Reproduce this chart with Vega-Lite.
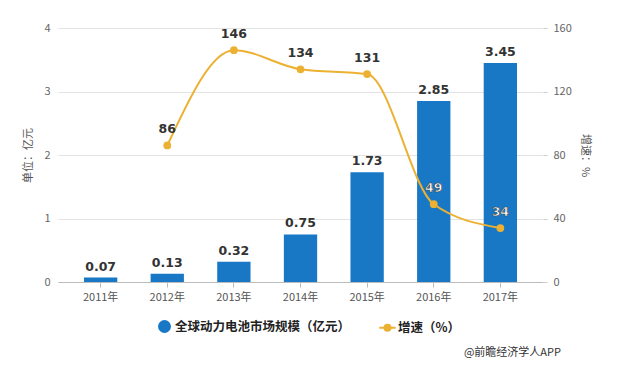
{
  "$schema": "https://vega.github.io/schema/vega-lite/v6.json",
  "autosize": {"type": "none"},
  "width": 485,
  "height": 254,
  "padding": {"left": 58, "top": 28, "right": 82, "bottom": 87},
  "background": "white",
  "config": {
    "font": "Noto Sans CJK SC",
    "view": {"stroke": null},
    "axis": {"labelColor": "#666", "labelFontSize": 11, "titleColor": "#555", "titleFontSize": 11, "titleFontWeight": "normal"}
  },
  "title": {
    "text": "@前瞻经济学人APP",
    "orient": "bottom",
    "anchor": "end",
    "frame": "group",
    "offset": 26,
    "dx": 18,
    "dy": -15,
    "fontSize": 11,
    "fontWeight": "normal",
    "color": "#333"
  },
  "data": {
    "values": [
      {"year": "2011年", "size": 0.07, "growth": null},
      {"year": "2012年", "size": 0.13, "growth": 86},
      {"year": "2013年", "size": 0.32, "growth": 146},
      {"year": "2014年", "size": 0.75, "growth": 134},
      {"year": "2015年", "size": 1.73, "growth": 131},
      {"year": "2016年", "size": 2.85, "growth": 49},
      {"year": "2017年", "size": 3.45, "growth": 34}
    ]
  },
  "encoding": {
    "x": {
      "field": "year",
      "type": "ordinal",
      "sort": null,
      "scale": {"paddingInner": 0.5, "paddingOuter": 0.39},
      "axis": {
        "title": null,
        "labelAngle": 0,
        "domainColor": "#bbb",
        "tickColor": "#bbb",
        "tickSize": 5,
        "labelPadding": 4,
        "labelColor": "#555"
      }
    }
  },
  "layer": [
    {
      "layer": [
        {
          "mark": {"type": "bar", "color": "#1878C6"},
          "encoding": {
            "y": {
              "field": "size",
              "type": "quantitative",
              "scale": {"domain": [0, 4]},
              "axis": {
                "title": "单位：亿元",
                "values": [0, 1, 2, 3, 4],
                "format": "d",
                "domain": false,
                "ticks": false,
                "gridColor": "#e3e3e3",
                "labelPadding": 8,
                "titlePadding": 10
              }
            },
            "color": {
              "datum": "全球动力电池市场规模（亿元）",
              "scale": {
                "domain": ["全球动力电池市场规模（亿元）", "增速（%）"],
                "range": ["#1878C6", "#ECB132"]
              },
              "legend": {
                "title": null,
                "orient": "none",
                "legendX": 100,
                "legendY": 292,
                "direction": "horizontal",
                "labelFontSize": 12.5,
                "labelFontWeight": "bold",
                "labelColor": "#222",
                "symbolSize": 120,
                "columnPadding": 24,
                "labelLimit": 300,
                "encode": {
                  "symbols": {
                    "update": {
                      "shape": {"signal": "datum.value === '增速（%）' ? 'M-1.5,0H1.5M0.55,0A0.55,0.55,0,1,1,-0.55,0A0.55,0.55,0,1,1,0.55,0' : 'circle'"},
                      "stroke": {"signal": "datum.value === '增速（%）' ? '#ECB132' : '#1878C6'"},
                      "fill": {"signal": "datum.value === '增速（%）' ? '#ECB132' : '#1878C6'"},
                      "strokeWidth": {"value": 2}
                    }
                  }
                }
              }
            }
          }
        },
        {
          "mark": {"type": "text", "baseline": "bottom", "dy": -4, "fontSize": 12.5, "fontWeight": "bold", "font": "DejaVu Sans", "color": "#333"},
          "encoding": {
            "y": {"field": "size", "type": "quantitative"},
            "text": {"field": "size", "type": "quantitative", "format": ".2f"}
          }
        }
      ]
    },
    {
      "transform": [{"filter": "datum.growth != null"}],
      "layer": [
        {
          "mark": {"type": "line", "interpolate": "monotone", "strokeWidth": 2, "point": {"filled": true, "size": 60}},
          "encoding": {
            "y": {
              "field": "growth",
              "type": "quantitative",
              "scale": {"domain": [0, 160]},
              "axis": {
                "orient": "right",
                "title": "增速：%",
                "titleAngle": 90,
                "values": [0, 40, 80, 120, 160],
                "grid": false,
                "domain": false,
                "ticks": true,
                "tickSize": 4,
                "tickColor": "#ccc",
                "labelPadding": 6,
                "titlePadding": 8
              }
            },
            "color": {"datum": "增速（%）"}
          }
        },
        {
          "mark": {"type": "text", "baseline": "bottom", "dy": -9, "fontSize": 12.5, "fontWeight": "bold", "font": "DejaVu Sans", "strokeWidth": 0.6},
          "encoding": {
            "y": {"field": "growth", "type": "quantitative"},
            "text": {"field": "growth", "type": "quantitative"},
            "color": {"condition": {"test": "datum.growth < 60", "value": "white"}, "value": "#333"},
            "stroke": {"condition": {"test": "datum.growth < 60", "value": "#444"}, "value": null}
          }
        }
      ]
    }
  ],
  "resolve": {"scale": {"y": "independent"}}
}
